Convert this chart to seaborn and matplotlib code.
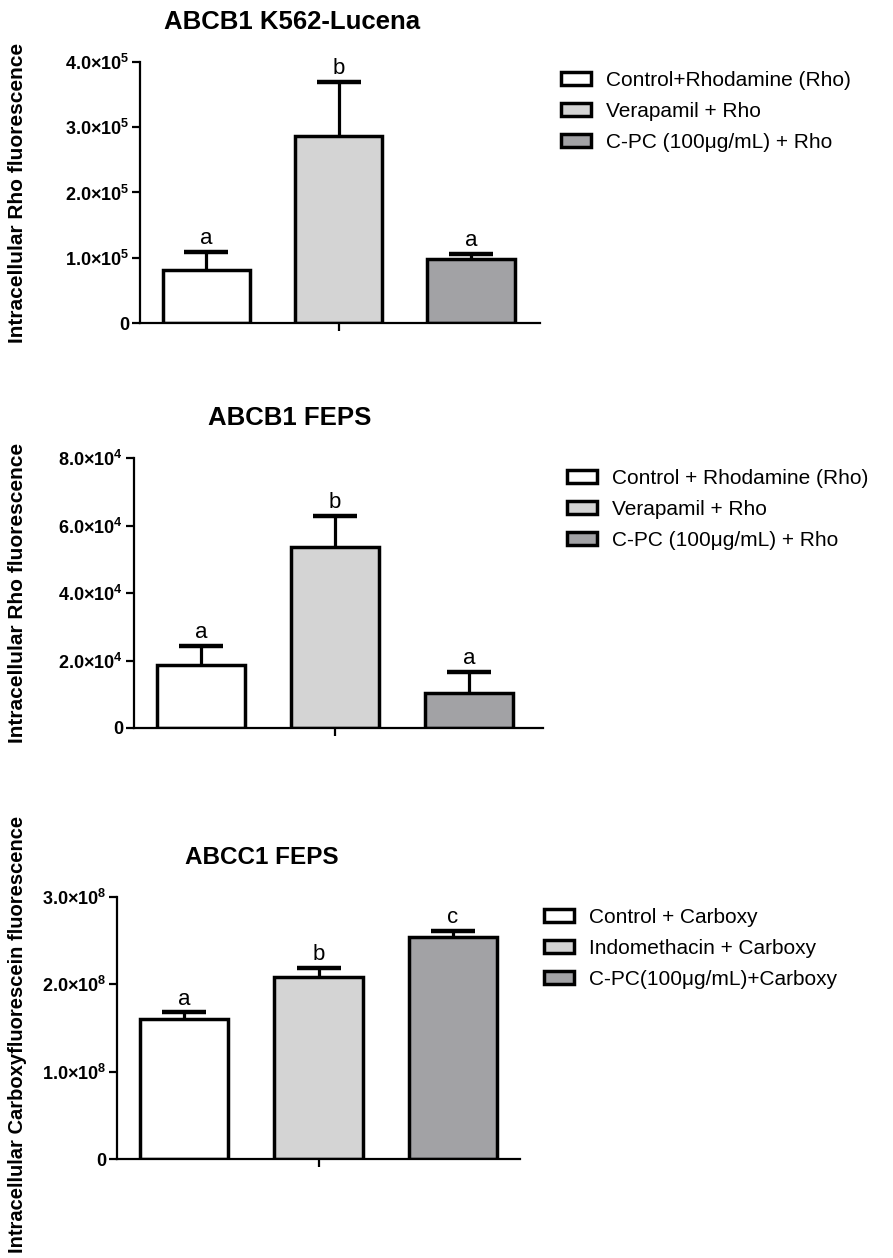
import matplotlib
matplotlib.use('Agg')
import matplotlib.pyplot as plt
import seaborn as sns
import numpy as np
import pandas as pd

# panel 1: ABCB1 K562-Lucena
p1_groups = ['Control+Rhodamine (Rho)', 'Verapamil + Rho', 'C-PC (100μg/mL) + Rho']
p1_mean = [0.81e5, 2.87e5, 0.98e5]
p1_sem = [0.28e5, 0.82e5, 0.08e5]
p1_letters = ['a', 'b', 'a']
p1_ticks = [0, 1e5, 2e5, 3e5, 4e5]
p1_ticklabels = ['0', '1.0×10$^5$', '2.0×10$^5$', '3.0×10$^5$', '4.0×10$^5$']

# panel 2: ABCB1 FEPS
p2_groups = ['Control + Rhodamine (Rho)', 'Verapamil + Rho', 'C-PC (100μg/mL) + Rho']
p2_mean = [1.87e4, 5.36e4, 1.04e4]
p2_sem = [0.56e4, 0.92e4, 0.62e4]
p2_letters = ['a', 'b', 'a']
p2_ticks = [0, 2e4, 4e4, 6e4, 8e4]
p2_ticklabels = ['0', '2.0×10$^4$', '4.0×10$^4$', '6.0×10$^4$', '8.0×10$^4$']

# panel 3: ABCC1 FEPS
p3_groups = ['Control + Carboxy', 'Indomethacin + Carboxy', 'C-PC(100μg/mL)+Carboxy']
p3_mean = [1.60e8, 2.08e8, 2.54e8]
p3_sem = [0.08e8, 0.11e8, 0.07e8]
p3_letters = ['a', 'b', 'c']
p3_ticks = [0, 1e8, 2e8, 3e8]
p3_ticklabels = ['0', '1.0×10$^8$', '2.0×10$^8$', '3.0×10$^8$']

colors = ['#ffffff', '#d4d4d4', '#a2a1a6']

sns.set_style('white')
plt.rcParams['font.family'] = ['Liberation Sans', 'DejaVu Sans']
plt.rcParams['mathtext.fontset'] = 'custom'
plt.rcParams['mathtext.rm'] = 'Liberation Sans:bold'
plt.rcParams['mathtext.bf'] = 'Liberation Sans:bold'
plt.rcParams['mathtext.default'] = 'bf'
for k in ['text.color', 'axes.labelcolor', 'xtick.color', 'ytick.color']:
    plt.rcParams[k] = 'black'

W, H = 893, 1258
fig = plt.figure(figsize=(W / 100, H / 100), dpi=100)


def px_axes(left, top, right, bottom):
    return fig.add_axes([left / W, 1 - bottom / H, (right - left) / W, (bottom - top) / H])


def panel(ax, groups, mean, sem, letters, ticks, ticklabels, ylabel, ylabel_size, xlim, label_xy,
          title, title_xy, title_size, leg_xy):
    df = pd.DataFrame({'group': groups, 'value': mean})
    sns.barplot(data=df, x='group', y='value', hue='group', order=groups, hue_order=groups,
                palette=colors, edgecolor='black', linewidth=2.5, width=0.66,
                legend=False, ax=ax, zorder=2)
    x = np.arange(len(groups))
    eb = ax.errorbar(x, mean, yerr=[np.zeros(len(mean)), sem], fmt='none', ecolor='black',
                     elinewidth=2.3, capsize=16, capthick=3.2, zorder=1)
    eb[1][0].set_visible(False)
    for xi, m, s, t in zip(x, mean, sem, letters):
        ax.annotate(t, (xi, m + s), xytext=(0, 2), textcoords='offset points',
                    ha='center', va='bottom', fontsize=16)
    ax.set_ylim(0, ticks[-1])
    ax.set_xlim(*xlim)
    ax.set_yticks(ticks)
    ax.set_yticklabels(ticklabels, fontsize=13, fontweight='bold')
    ax.set_xticks([1])
    ax.set_xticklabels([''])
    ax.set_xlabel('')
    ax.set_ylabel(ylabel, fontsize=ylabel_size, fontweight='bold')
    ax.yaxis.set_label_coords(*label_xy)
    ax.tick_params(axis='both', direction='out', length=6, width=1.6, color='black', pad=2,
                   bottom=True, left=True)
    sns.despine(ax=ax)
    for sp in ['left', 'bottom']:
        ax.spines[sp].set_linewidth(1.6)
        ax.spines[sp].set_color('black')
    fig.text(title_xy[0] / W, 1 - title_xy[1] / H, title, ha='center', va='center',
             fontsize=title_size, fontweight='bold')
    ax.legend(handles=ax.patches[:3], labels=groups, loc='upper left',
              bbox_to_anchor=(leg_xy[0] / W, 1 - leg_xy[1] / H), bbox_transform=fig.transFigure,
              frameon=False, fontsize=15, borderaxespad=0, borderpad=0,
              handlelength=1.45, handleheight=0.6, handletextpad=0.7, labelspacing=0.58)


ax1 = px_axes(140, 62, 540, 323)
panel(ax1, p1_groups, p1_mean, p1_sem, p1_letters, p1_ticks, p1_ticklabels,
      'Intracellular Rho fluorescence', 15, (-0.5, 2.52), (-0.283, 0.5),
      'ABCB1 K562-Lucena', (292, 22), 18.5, (561, 71))

ax2 = px_axes(134, 458, 543, 728)
panel(ax2, p2_groups, p2_mean, p2_sem, p2_letters, p2_ticks, p2_ticklabels,
      'Intracellular Rho fluorescence', 15, (-0.5, 2.55), (-0.262, 0.5),
      'ABCB1 FEPS', (290, 418), 18.5, (567, 469))

ax3 = px_axes(117, 897, 520, 1159)
panel(ax3, p3_groups, p3_mean, p3_sem, p3_letters, p3_ticks, p3_ticklabels,
      'Intracellular Carboxyfluorescein fluorescence', 14.5, (-0.5, 2.5), (-0.223, 0.475),
      'ABCC1 FEPS', (262, 858), 17.5, (544, 908))

fig.savefig('out.png', dpi=100)
